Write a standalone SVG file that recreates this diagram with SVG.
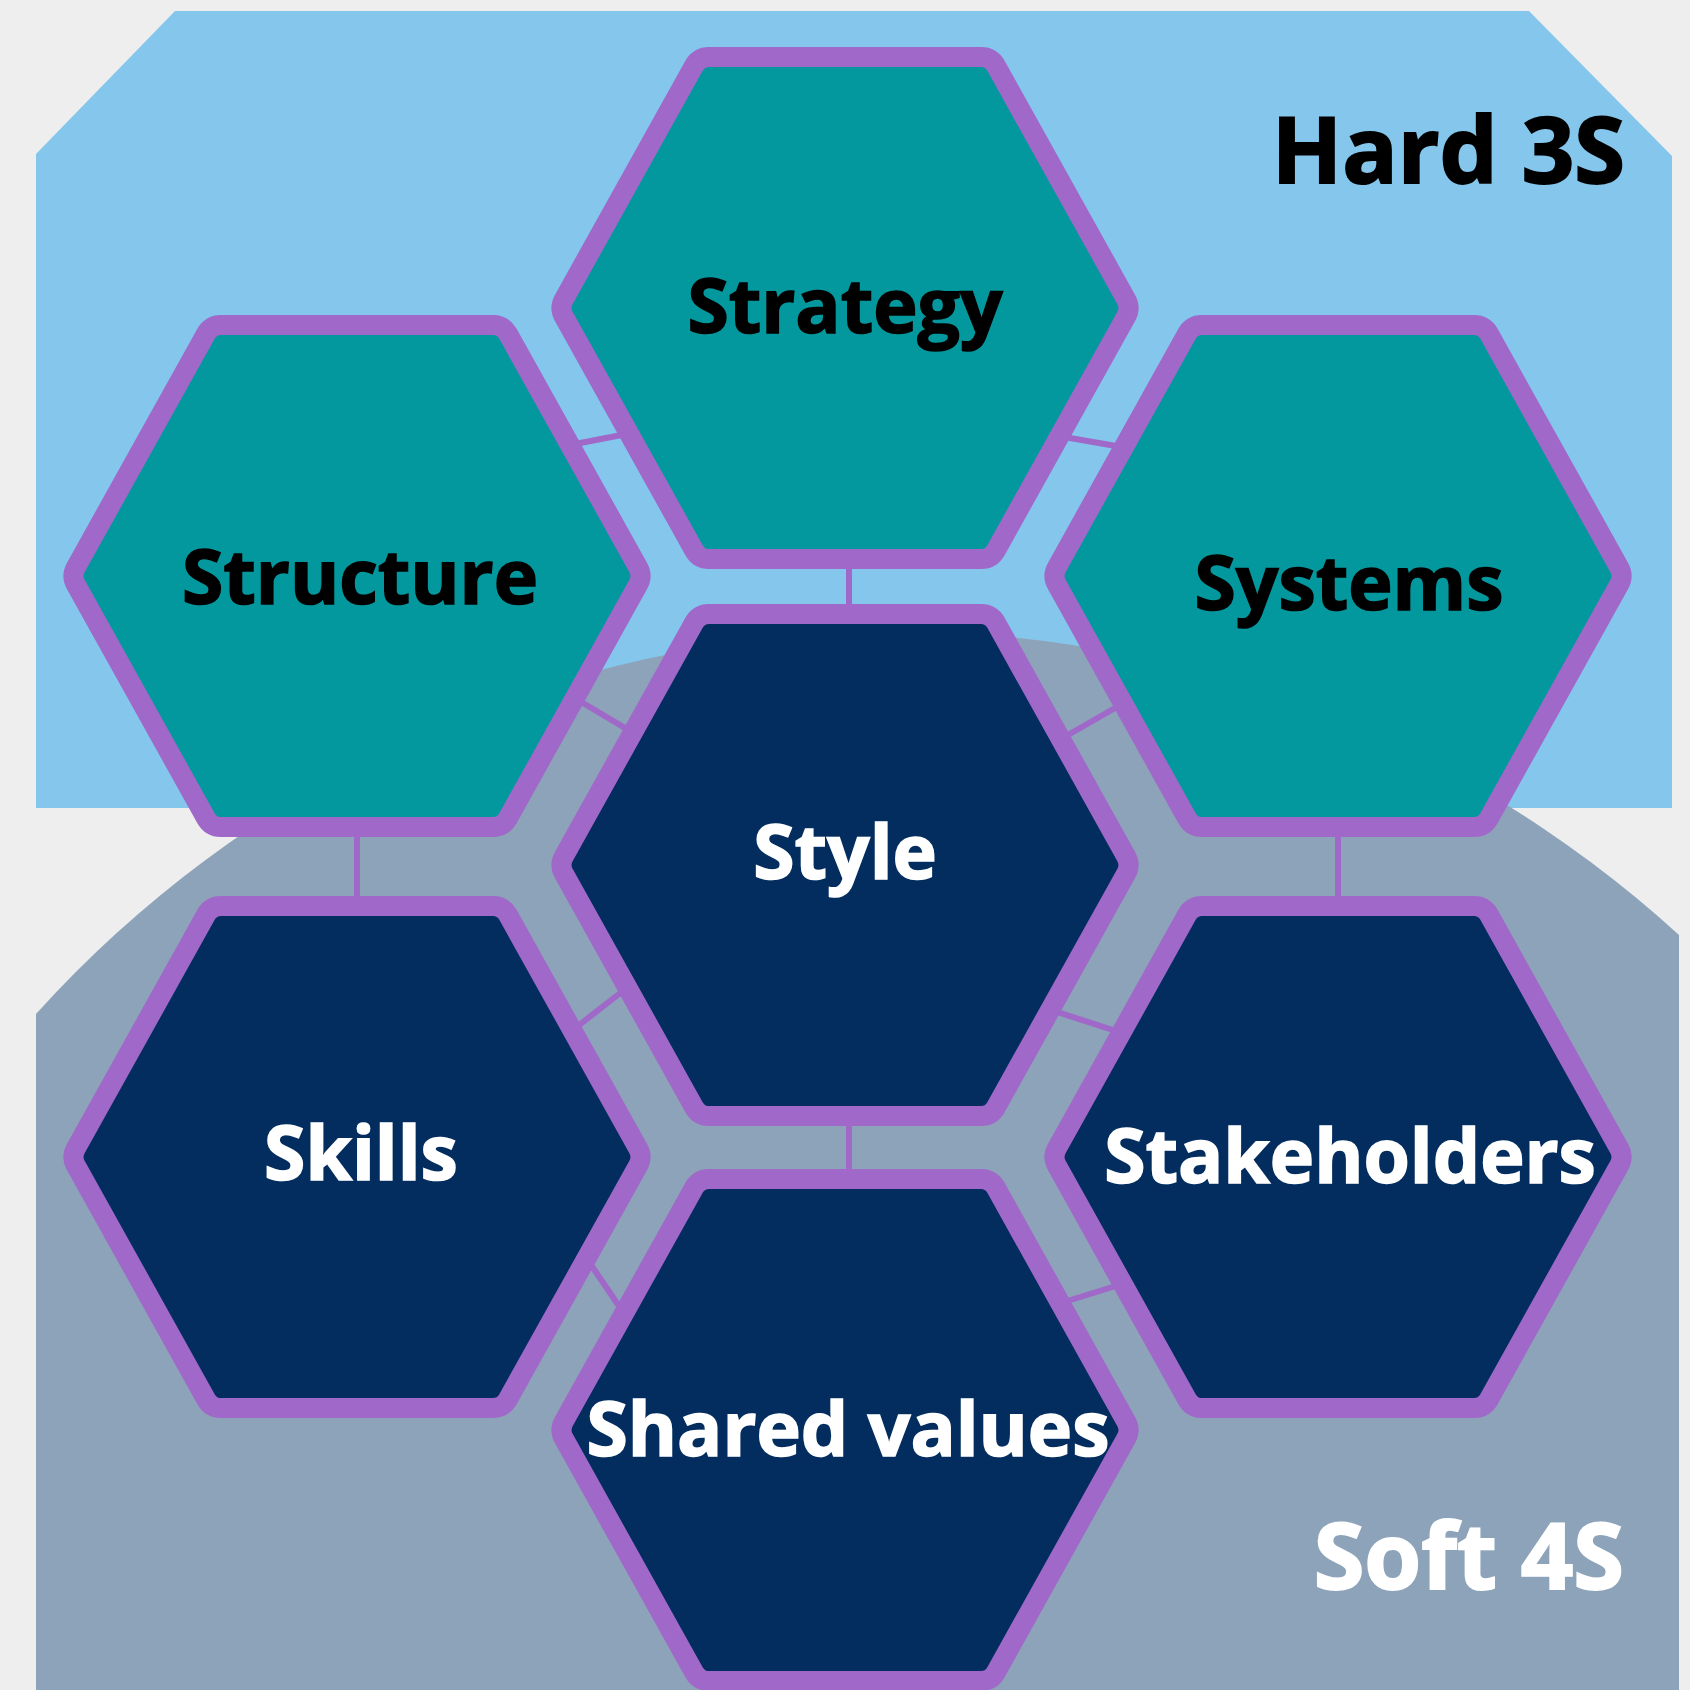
<svg xmlns="http://www.w3.org/2000/svg" xmlns:xlink="http://www.w3.org/1999/xlink" width="1690" height="1690" viewBox="0 0 1690 1690">
<style>
.hex{stroke:#A068C8;stroke-width:20;stroke-linejoin:round}
.hard{fill:#02989E}
.soft{fill:#022D5E}
.lbl{font-family:"Open Sans","Liberation Sans",sans-serif;font-weight:700;font-size:75px;text-anchor:middle;stroke-width:1.6;paint-order:stroke}
.dark{fill:#000;stroke:#000}
.light{fill:#fff;stroke:#fff}
.big{font-family:"Open Sans","Liberation Sans",sans-serif;font-weight:700;font-size:92px;text-anchor:end;stroke-width:2;paint-order:stroke}
.conn line{stroke:#A068C8;stroke-width:6}
</style>
<defs>
<path id="hexp" d="M-281.1,8.7 Q-286,0 -281.1,-8.7 L-150.9,-242.3 Q-146,-251 -136,-251 L136,-251 Q146,-251 150.9,-242.3 L281.1,-8.7 Q286,0 281.1,8.7 L150.9,242.3 Q146,251 136,251 L-136,251 Q-146,251 -150.9,242.3 Z"/>
</defs>
<rect width="1690" height="1690" fill="#EEEEEE"/>
<g id="hard-region">
<path d="M175,11 L1529,11 L1672,156 L1672,808 L36,808 L36,154 Z" fill="#85C6EC"/>
</g>
<g id="soft-region">
<path d="M36,1690 L36,1014 A1160,1160 0 0 1 1679,935 L1679,1690 Z" fill="#8DA3BA"/>
</g>
<g id="region-labels">
<text class="big dark" x="1625" y="183">Hard 3S</text>
<text class="big light" x="1624" y="1589">Soft 4S</text>
</g>
<g class="conn" id="connectors">
<line x1="849" y1="560" x2="849" y2="612"/>
<line x1="357" y1="828" x2="357" y2="903"/>
<line x1="1338" y1="828" x2="1338" y2="903"/>
<line x1="849" y1="1118" x2="849" y2="1178"/>
<line x1="575" y1="444" x2="632" y2="433"/>
<line x1="1064" y1="437" x2="1122" y2="447"/>
<line x1="578" y1="700" x2="630" y2="731"/>
<line x1="1061" y1="739" x2="1122" y2="704"/>
<line x1="574" y1="1029" x2="628" y2="987"/>
<line x1="587" y1="1259" x2="623" y2="1312"/>
<line x1="1051" y1="1010" x2="1119" y2="1032"/>
<line x1="1061" y1="1303" x2="1122" y2="1284"/>
</g>
<g id="strategy">
<use xlink:href="#hexp" href="#hexp" class="hex hard" x="845" y="308"/>
<text class="lbl dark" x="845" y="333">Strategy</text>
</g>
<g id="structure">
<use xlink:href="#hexp" href="#hexp" class="hex hard" x="357" y="576"/>
<text class="lbl dark" x="360" y="604">Structure</text>
</g>
<g id="systems">
<use xlink:href="#hexp" href="#hexp" class="hex hard" x="1338" y="576"/>
<text class="lbl dark" x="1349" y="610">Systems</text>
</g>
<g id="style">
<use xlink:href="#hexp" href="#hexp" class="hex soft" x="845" y="865"/>
<text class="lbl light" x="845" y="879">Style</text>
</g>
<g id="skills">
<use xlink:href="#hexp" href="#hexp" class="hex soft" x="357" y="1157"/>
<text class="lbl light" x="361" y="1180">Skills</text>
</g>
<g id="stakeholders">
<use xlink:href="#hexp" href="#hexp" class="hex soft" x="1338" y="1157"/>
<text class="lbl light" x="1350" y="1183">Stakeholders</text>
</g>
<g id="shared-values">
<use xlink:href="#hexp" href="#hexp" class="hex soft" x="845" y="1430"/>
<text class="lbl light" x="848" y="1456">Shared values</text>
</g>
</svg>
